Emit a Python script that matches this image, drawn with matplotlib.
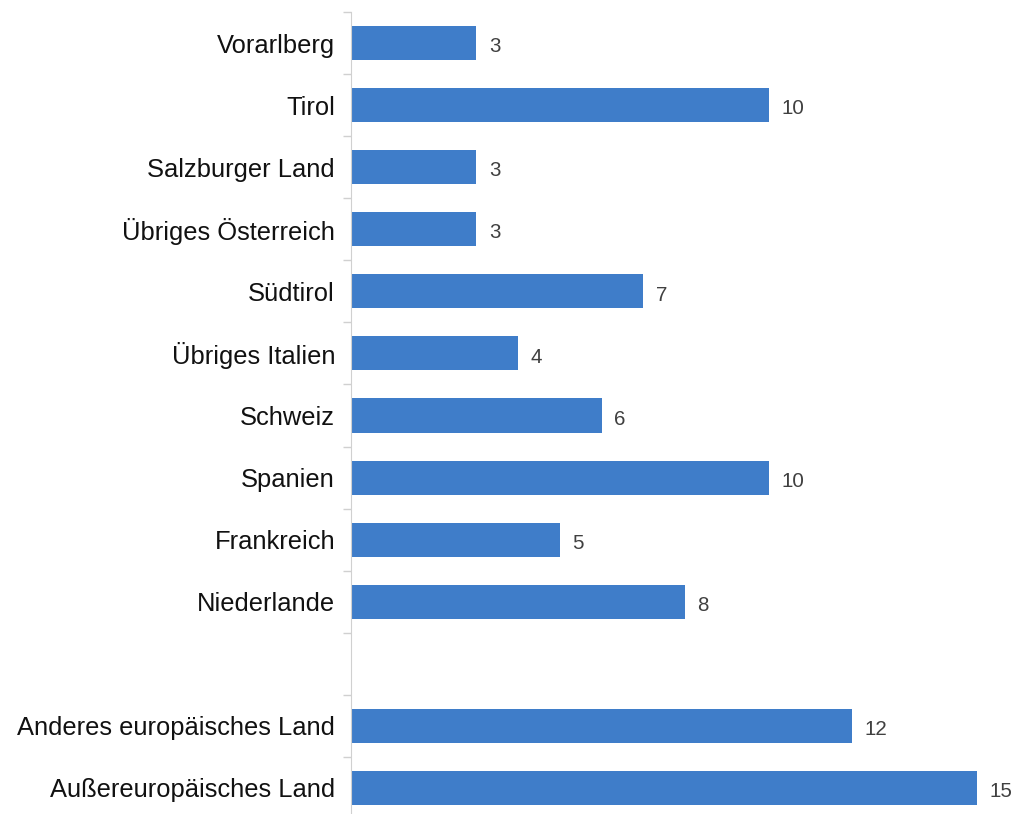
import numpy as np
import matplotlib.pyplot as plt

plt.rcParams['font.family'] = ['Liberation Sans', 'DejaVu Sans']

categories = ["Vorarlberg", "Tirol", "Salzburger Land", "Übriges Österreich",
              "Südtirol", "Übriges Italien", "Schweiz", "Spanien", "Frankreich",
              "Niederlande", "", "Anderes europäisches Land", "Außereuropäisches Land"]
values = [3, 10, 3, 3, 7, 4, 6, 10, 5, 8, None, 12, 15]

W, H = 1019, 814
fig = plt.figure(figsize=(W / 100, H / 100), dpi=100)
ax = fig.add_axes([351 / W, -5 / H, (W - 351) / W, (H - 12 + 5) / H])

pos = np.arange(len(categories))
for y, v in zip(pos, values):
    if v is None:
        continue
    ax.barh(y, v, height=0.55, color="#3f7dc9", zorder=2)
    ax.text(v + 0.3, y + 0.06, str(v), va="center", ha="left",
            fontsize=14.8, color="#404040")

ax.set_xlim(0, 16)
ax.set_ylim(len(categories) - 0.5, -0.5)
ax.set_yticks(pos)
ax.set_yticklabels(categories, fontsize=18.4, color="#111111")
ax.set_yticks(np.arange(-0.5, len(categories) + 0.5, 1), minor=True)
ax.tick_params(axis="y", which="major", length=0, pad=11.5)
ax.tick_params(axis="y", which="minor", length=6, color="#d0d0d0", width=1)
ax.set_xticks([])
for s in ["top", "right", "bottom"]:
    ax.spines[s].set_visible(False)
ax.spines["left"].set_color("#d0d0d0")

fig.savefig("out.png", dpi=100)
